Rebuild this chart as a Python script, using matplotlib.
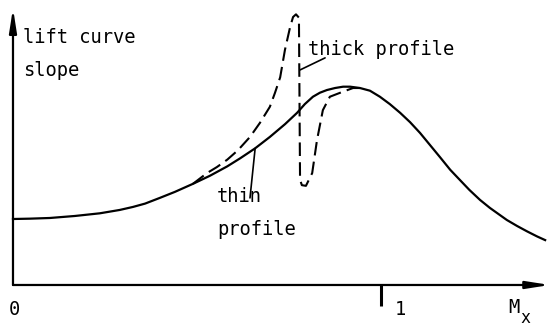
import matplotlib
matplotlib.use("Agg")
import matplotlib.pyplot as plt

# lift curve slope against Mach number, thin and thick profile
mach_thin = [0.0, 0.046, 0.10, 0.168, 0.236, 0.29, 0.326, 0.359, 0.399, 0.44,
             0.489, 0.535, 0.582, 0.617, 0.658, 0.698, 0.739, 0.772, 0.793,
             0.815, 0.834, 0.853, 0.875, 0.897, 0.916, 0.943, 0.970, 0.997,
             1.024, 1.052, 1.079, 1.106, 1.133, 1.160, 1.188, 1.207, 1.24,
             1.269, 1.296, 1.342, 1.370, 1.397, 1.424, 1.446]
slope_thin = [0.985, 0.99, 1.0, 1.03, 1.07, 1.12, 1.165, 1.215, 1.30, 1.39,
              1.51, 1.63, 1.77, 1.89, 2.04, 2.21, 2.40, 2.57, 2.70,
              2.81, 2.87, 2.91, 2.94, 2.96, 2.96, 2.94, 2.90, 2.81,
              2.70, 2.57, 2.43, 2.27, 2.09, 1.91, 1.72, 1.61, 1.42,
              1.27, 1.15, 0.97, 0.88, 0.80, 0.725, 0.67]

mach_thick = [0.489, 0.527, 0.554, 0.582, 0.611, 0.644, 0.671, 0.698, 0.712,
              0.726, 0.739, 0.753, 0.761, 0.769, 0.777, 0.780, 0.785, 0.796,
              0.813, 0.826, 0.842, 0.861, 0.894, 0.924, 0.943]
slope_thick = [1.51, 1.67, 1.76, 1.87, 2.01, 2.21, 2.42, 2.66, 2.87,
               3.10, 3.51, 3.85, 4.00, 4.04, 3.99, 1.57, 1.49, 1.48,
               1.67, 2.16, 2.61, 2.81, 2.88, 2.94, 2.94]

font = dict(family="DejaVu Sans Mono", fontsize=13.5, color="black")

fig = plt.figure(figsize=(5.5, 3.29), dpi=100)
ax = fig.add_axes([0, 0, 1, 1])
ax.set_xlim(-0.0353, 1.4592)
ax.set_ylim(-0.657, 4.254)
ax.axis("off")

# axes with arrow heads
arrow = dict(arrowstyle="-|>,head_length=1.4,head_width=0.22", color="black",
             lw=1.6, shrinkA=0, shrinkB=0)
ax.annotate("", xy=(0, 4.13), xytext=(0, 0), arrowprops=arrow)
ax.annotate("", xy=(1.459, 0), xytext=(0, 0), arrowprops=arrow)
ax.plot([1.0, 1.0], [0, -0.31], color="black", lw=2.2, solid_capstyle="butt")

ax.plot(mach_thin, slope_thin, color="black", lw=1.6,
        solid_joinstyle="round")
dash, = ax.plot(mach_thick, slope_thick, color="black", lw=1.5)
dash.set_dashes([6.5, 3])

# labels
ax.text(0.027, 3.612, "lift curve", ha="left", va="baseline", **font)
ax.text(0.027, 3.119, "slope", ha="left", va="baseline", **font)
ax.text(0.802, 3.433, "thick profile", ha="left", va="baseline", **font)
ax.text(0.554, 1.239, "thin", ha="left", va="baseline", **font)
ax.text(0.554, 0.746, "profile", ha="left", va="baseline", **font)

leader = dict(arrowstyle="-", color="black", lw=1.2, shrinkA=0, shrinkB=0)
ax.annotate("", xy=(mach_thin[14], slope_thin[14]), xytext=(0.644, 1.30),
            arrowprops=leader)
ax.annotate("", xy=(0.780, 3.21), xytext=(0.848, 3.39), arrowprops=leader)

ax.text(0.005, -0.448, "0", ha="center", va="baseline", **font)
ax.text(1.052, -0.448, "1", ha="center", va="baseline", **font)
ax.text(1.345, -0.418, "M", ha="left", va="baseline", **font)
ax.text(1.378, -0.56, "x", ha="left", va="baseline",
        family="DejaVu Sans Mono", fontsize=12, color="black")

fig.savefig("out.png", dpi=100)
